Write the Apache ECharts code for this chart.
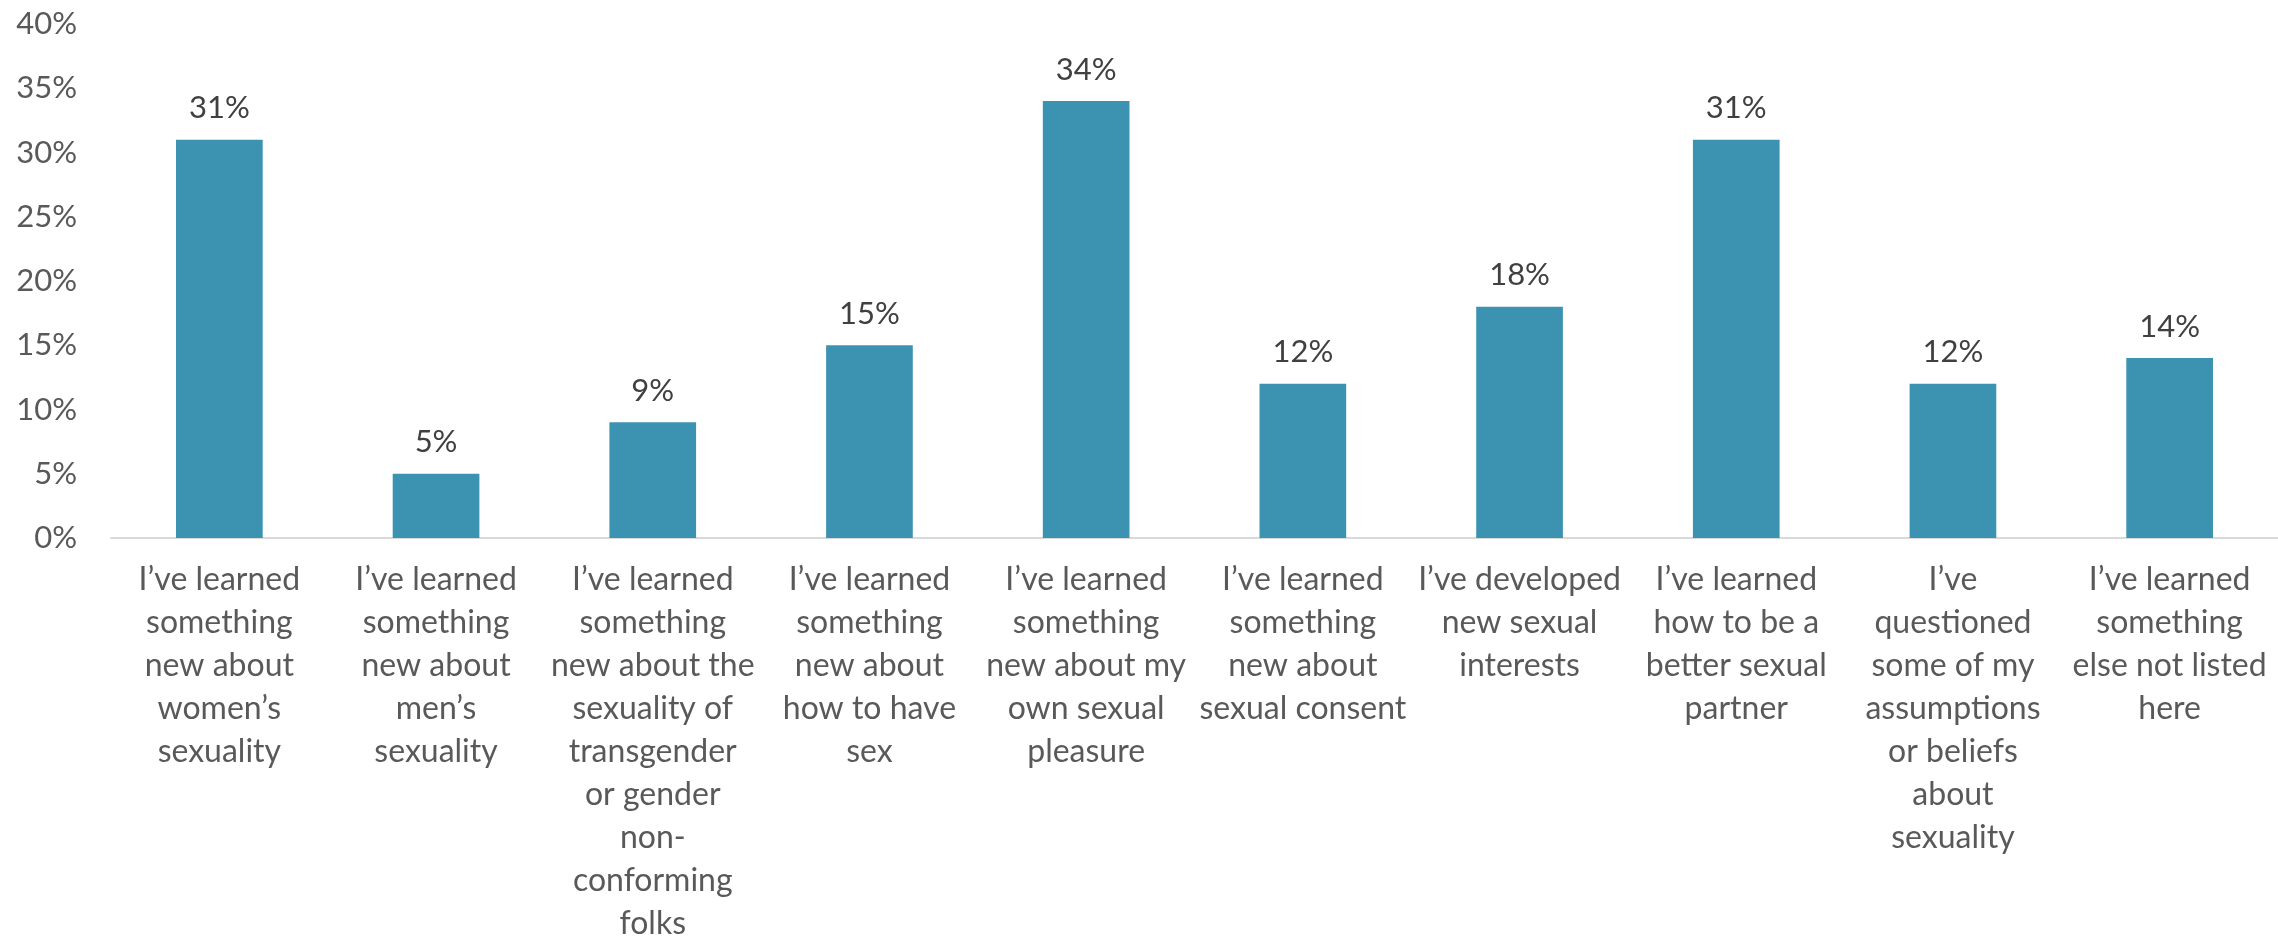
<!DOCTYPE html>
<html>
<head>
<meta charset="utf-8">
<title>What I learned</title>
<script src="https://cdn.jsdelivr.net/npm/echarts@6/dist/echarts.min.js"></script>
<style>
  html, body { margin: 0; padding: 0; background: #fff; }
  #chartDiv { width: 2278px; height: 945px; }
</style>
</head>
<body>
<div id="chartDiv"></div>
<script>
// categories (line breaks as in the picture)
var categories = [
    "I\u2019ve learned\nsomething\nnew about\nwomen\u2019s\nsexuality",
    "I\u2019ve learned\nsomething\nnew about\nmen\u2019s\nsexuality",
    "I\u2019ve learned\nsomething\nnew about the\nsexuality of\ntransgender\nor gender\nnon-\nconforming\nfolks",
    "I\u2019ve learned\nsomething\nnew about\nhow to have\nsex",
    "I\u2019ve learned\nsomething\nnew about my\nown sexual\npleasure",
    "I\u2019ve learned\nsomething\nnew about\nsexual consent",
    "I\u2019ve developed\nnew sexual\ninterests",
    "I\u2019ve learned\nhow to be a\nbetter sexual\npartner",
    "I\u2019ve\nquestioned\nsome of my\nassumptions\nor beliefs\nabout\nsexuality",
    "I\u2019ve learned\nsomething\nelse not listed\nhere"
];
// percentages
var values = [31, 5, 9, 15, 34, 12, 18, 31, 12, 14];
var yTicks = { min: 0, max: 40, interval: 5 };

var fontName = "Lato";
var chartDiv = echarts.init(document.getElementById('chartDiv'));

var option = {
    animation: false,
    grid: {
        left: 111,
        right: 0,
        top: 24,
        bottom: 405
    },
    xAxis: {
        type: 'category',
        data: categories,
        axisLine: { lineStyle: { color: '#d9d9d9', width: 2 } },
        axisTick: { show: false },
        axisLabel: {
            interval: 0,
            margin: 20,
            color: '#595959',
            fontFamily: fontName,
            fontSize: 32,
            lineHeight: 43
        }
    },
    yAxis: {
        type: 'value',
        min: yTicks.min,
        max: yTicks.max,
        interval: yTicks.interval,
        splitLine: { show: false },
        axisLine: { show: false },
        axisTick: { show: false },
        axisLabel: {
            formatter: '{value}%',
            margin: 34,
            color: '#595959',
            fontFamily: fontName,
            fontSize: 31
        }
    },
    series: [
        {
            type: 'bar',
            data: values,
            barCategoryGap: '60%',
            itemStyle: { color: '#3b93b1' },
            label: {
                show: true,
                position: 'top',
                distance: 16,
                formatter: '{c}%',
                color: '#404040',
                fontFamily: fontName,
                fontSize: 31
            }
        }
    ]
};
chartDiv.setOption(option);
</script>
</body>
</html>
